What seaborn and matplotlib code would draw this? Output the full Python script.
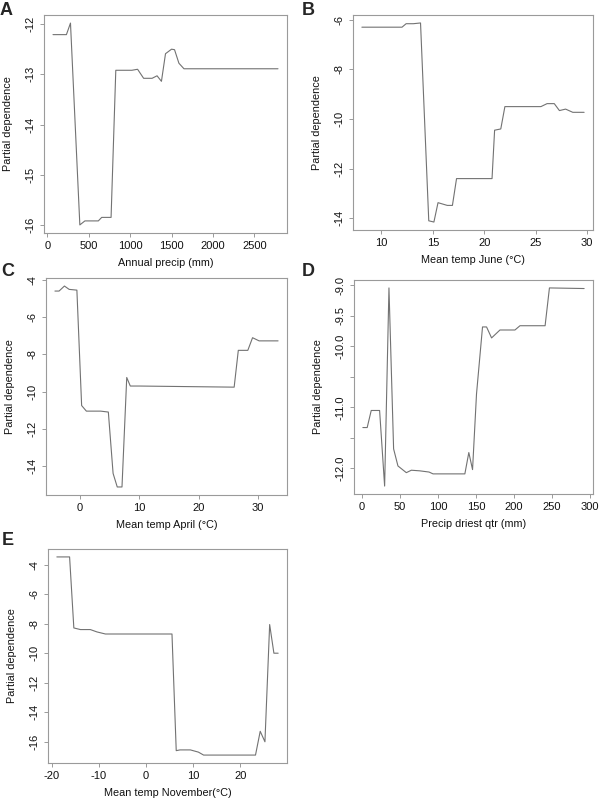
import matplotlib
matplotlib.use("Agg")
import matplotlib.pyplot as plt
import numpy as np
import pandas as pd
import seaborn as sns

# panel A: annual precipitation
precip_x = [69, 231, 280, 393, 454, 616, 657, 770, 827, 1021, 1090, 1163, 1265,
            1325, 1378, 1427, 1500, 1536, 1589, 1650, 2785]
precip_y = [-12.21, -12.21, -11.98, -16.0, -15.92, -15.92, -15.85, -15.85, -12.92,
            -12.92, -12.90, -13.08, -13.08, -13.03, -13.14, -12.59, -12.50, -12.51,
            -12.78, -12.89, -12.89]

# panel B: mean temp June
june_x = [8.1, 12.0, 12.4, 13.1, 13.8, 14.6, 15.1, 15.5, 16.4, 16.9, 17.3, 20.75,
          21.0, 21.6, 22.0, 25.5, 26.1, 26.8, 27.3, 27.9, 28.6, 29.7]
june_y = [-6.30, -6.30, -6.16, -6.16, -6.13, -14.10, -14.15, -13.37, -13.48, -13.48,
          -12.40, -12.40, -10.45, -10.40, -9.50, -9.50, -9.38, -9.38, -9.66, -9.60,
          -9.73, -9.73]

# panel C: mean temp April
april_x = [-4.2, -3.5, -2.6, -1.8, -0.5, 0.3, 1.1, 3.5, 4.8, 5.6, 6.3, 7.1, 7.9,
           8.5, 10.0, 26.0, 26.7, 28.3, 29.1, 30.2, 33.4]
april_y = [-4.59, -4.59, -4.32, -4.50, -4.54, -10.75, -11.05, -11.05, -11.10, -14.40,
           -15.13, -15.13, -9.24, -9.70, -9.70, -9.76, -7.78, -7.78, -7.10, -7.27,
           -7.27]

# panel D: precip driest quarter
dry_x = [1.3, 7.0, 12.3, 23.3, 29.9, 35.6, 41.7, 47.4, 58.4, 65.0, 76.0, 88.3, 93.5,
         135.3, 140.5, 145.4, 150.6, 158.5, 163.8, 170.4, 181.4, 201.1, 207.7,
         240.7, 246.4, 292.0]
dry_y = [-11.33, -11.33, -11.05, -11.05, -12.29, -9.04, -11.68, -11.96, -12.07,
         -12.03, -12.04, -12.06, -12.09, -12.09, -11.74, -12.02, -10.78, -9.68,
         -9.68, -9.86, -9.73, -9.73, -9.66, -9.66, -9.04, -9.05]

# panel E: mean temp November
nov_x = [-18.9, -16.2, -15.3, -13.9, -11.8, -10.4, -8.6, 5.5, 6.4, 7.2, 9.4, 11.1,
         12.2, 23.2, 24.2, 25.2, 26.2, 27.1, 28.0]
nov_y = [-3.48, -3.48, -8.29, -8.40, -8.40, -8.56, -8.70, -8.70, -16.60, -16.55,
         -16.55, -16.70, -16.90, -16.90, -15.29, -16.00, -8.06, -10.00, -10.00]

sns.set_style("white")
plt.rcParams["font.family"] = ["Liberation Sans", "DejaVu Sans"]
plt.rcParams["axes.unicode_minus"] = False

W, H = 600, 798
fig = plt.figure(figsize=(W / 100, H / 100), dpi=100)


def box(x0, y0, x1, y1):
    return [x0 / W, 1 - y1 / H, (x1 - x0) / W, (y1 - y0) / H]


panels = [
    ("A", precip_x, precip_y, "Annual precip (mm)", box(44, 15, 287, 233),
     [0, 500, 1000, 1500, 2000, 2500], [-16, -15, -14, -13, -12], None, (0, 15)),
    ("B", june_x, june_y, "Mean temp June (\u00b0C)", box(353, 15, 593, 230),
     [10, 15, 20, 25, 30], [-14, -12, -10, -8, -6], None, (302, 15)),
    ("C", april_x, april_y, "Mean temp April (\u00b0C)", box(46, 278, 287, 495),
     [0, 10, 20, 30], [-14, -12, -10, -8, -6, -4], None, (1, 276)),
    ("D", dry_x, dry_y, "Precip driest qtr (mm)", box(354, 280, 593, 494),
     [0, 50, 100, 150, 200, 250, 300],
     [-12.0, -11.5, -11.0, -10.5, -10.0, -9.5, -9.0],
     ["-12.0", "", "-11.0", "", "-10.0", "-9.5", "-9.0"], (302, 276)),
    ("E", nov_x, nov_y, "Mean temp November(\u00b0C)", box(48, 549, 287, 763),
     [-20, -10, 0, 10, 20], [-16, -14, -12, -10, -8, -6, -4], None, (2, 545)),
]

for letter, xs, ys, xlab, rect, xt, yt, ylabels, lpos in panels:
    ax = fig.add_axes(rect)
    df = pd.DataFrame({"x": xs, "y": ys})
    sns.lineplot(data=df, x="x", y="y", ax=ax, color="#727272", linewidth=0.8,
                 sort=False, estimator=None)
    ax.margins(x=0.04, y=0.04)
    ax.set_xticks(xt)
    ax.set_yticks(yt)
    if ylabels is not None:
        ax.set_yticklabels(ylabels)
    for s in ax.spines.values():
        s.set_visible(True)
        s.set_color("#9a9a9a")
        s.set_linewidth(0.8)
    ax.tick_params(axis="both", which="both", direction="out", length=3,
                   width=0.7, color="#9a9a9a", labelsize=8, labelcolor="#111111",
                   pad=3, bottom=True, left=True)
    plt.setp(ax.get_yticklabels(), rotation=90, va="center")
    ax.set_xlabel(xlab, fontsize=7.8, labelpad=5, color="#111111")
    ax.set_ylabel("Partial dependence", fontsize=7.8, labelpad=9, color="#111111")
    fig.text(lpos[0] / W, 1 - lpos[1] / H, letter, fontsize=13, fontweight="bold",
             ha="left", va="baseline")

fig.savefig("out.png", dpi=100)
